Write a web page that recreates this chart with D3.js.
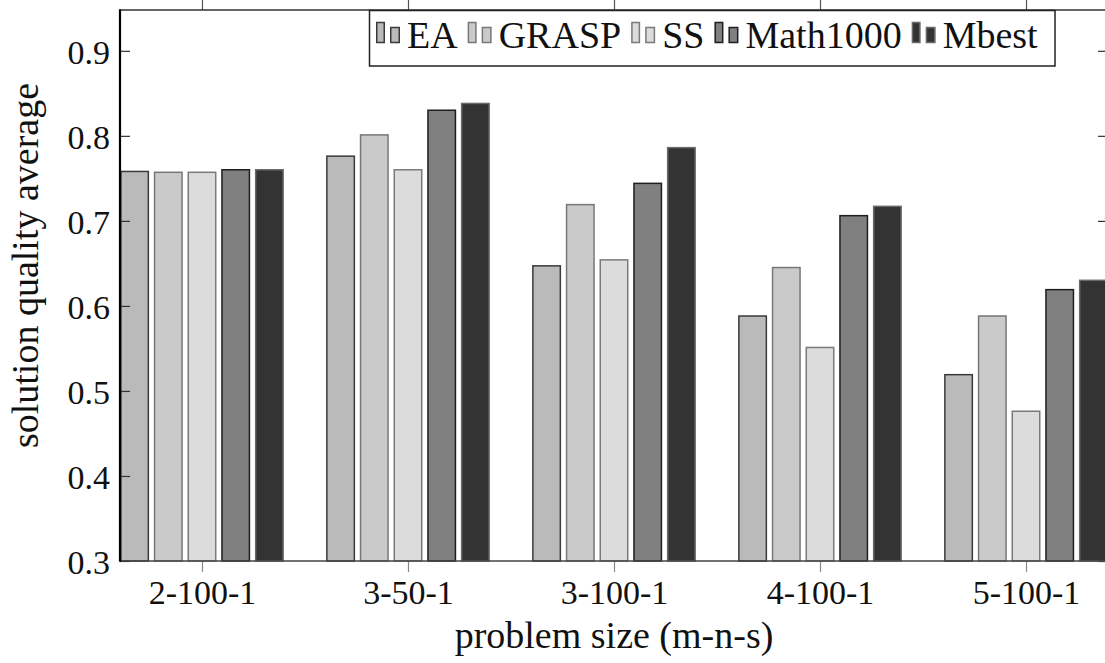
<!DOCTYPE html>
<html>
<head>
<meta charset="utf-8">
<script src="https://cdn.jsdelivr.net/npm/d3@7"></script>
<style>
  html, body { margin: 0; padding: 0; background: #fff; }
  svg { display: block; }
  text { font-family: "Liberation Serif", "Times New Roman", serif; fill: #111; }
</style>
</head>
<body>
<svg id="chart" width="1105" height="663"></svg>
<script>
// Problem sizes (m-n-s) on the x axis
const categories = ["2-100-1", "3-50-1", "3-100-1", "4-100-1", "5-100-1"];

// Solution quality average per method
const seriesNames = ["EA", "GRASP", "SS", "Math1000", "Mbest"];
const eaValues       = [0.759, 0.777, 0.648, 0.589, 0.520];
const graspValues    = [0.758, 0.802, 0.720, 0.646, 0.589];
const ssValues       = [0.758, 0.761, 0.655, 0.552, 0.477];
const math1000Values = [0.761, 0.831, 0.745, 0.707, 0.620];
const mbestValues    = [0.761, 0.839, 0.787, 0.718, 0.631];

const yTicks = [0.3, 0.4, 0.5, 0.6, 0.7, 0.8, 0.9];
const yDomain = [0.3, 0.948];

const seriesValues = [eaValues, graspValues, ssValues, math1000Values, mbestValues];

// Fill and outline per method
const fills   = ["#bababa", "#cacaca", "#dcdcdc", "#808080", "#333333"];
const strokes = ["#3a3a3a", "#777777", "#7a7a7a", "#1e1e1e", "#6a6a6a"];

const svg = d3.select("#chart");
const plotLeft = 120, plotRight = 1108, plotTop = 10, plotBottom = 561;

const x0 = d3.scalePoint().domain(categories).range([plotLeft, plotRight]).padding(0.398);
const x1 = d3.scaleBand().domain(seriesNames).range([-84.25, 84.25])
  .paddingInner(0.14).paddingOuter(0.07);
const y = d3.scaleLinear().domain(yDomain).range([plotBottom, plotTop]);

// Bars
const rows = categories.map((c, i) => ({
  cat: c,
  vals: seriesNames.map((s, k) => ({ s, k, v: seriesValues[k][i] }))
}));

const groups = svg.append("g").selectAll("g").data(rows).join("g")
  .attr("transform", d => `translate(${x0(d.cat)},0)`);

groups.selectAll("rect").data(d => d.vals).join("rect")
  .attr("x", d => x1(d.s) + 0.75)
  .attr("width", x1.bandwidth() - 1.5)
  .attr("y", d => y(d.v) + 0.75)
  .attr("height", d => y(yDomain[0]) - y(d.v) - 0.75)
  .attr("fill", d => fills[d.k])
  .attr("stroke", d => strokes[d.k])
  .attr("stroke-width", 1.5);

// Y axis, ticks pointing inward
const yAxis = svg.append("g").attr("transform", `translate(${plotLeft},0)`)
  .call(d3.axisLeft(y).tickValues(yTicks).tickFormat(d3.format(".1f"))
    .tickSize(-10).tickPadding(10));
yAxis.attr("font-family", null);
yAxis.select(".domain").remove();
yAxis.selectAll(".tick line").attr("stroke", "#333").attr("stroke-width", 1.2);
yAxis.selectAll(".tick text").attr("font-size", 34).attr("dy", "0.36em")
  .style("font-family", "'Liberation Serif', serif").attr("fill", "#222");

// Mirrored ticks on the right side
const yAxisR = svg.append("g").attr("transform", `translate(${plotRight},0)`)
  .call(d3.axisRight(y).tickValues(yTicks).tickSize(-10).tickFormat(""));
yAxisR.select(".domain").remove();
yAxisR.selectAll(".tick line").attr("stroke", "#333").attr("stroke-width", 1.2);

// X axis, ticks pointing outward
const xAxis = svg.append("g").attr("transform", `translate(0,${plotBottom})`)
  .call(d3.axisBottom(x0).tickSize(11).tickPadding(8));
xAxis.attr("font-family", null);
xAxis.select(".domain").remove();
xAxis.selectAll(".tick line").attr("stroke", "#888").attr("stroke-width", 1.2);
xAxis.selectAll(".tick text").attr("font-size", 34).attr("dy", "0.71em")
  .attr("y", 19)
  .style("font-family", "'Liberation Serif', serif").attr("fill", "#111");

const xAxisTop = svg.append("g").attr("transform", `translate(0,${plotTop})`)
  .call(d3.axisTop(x0).tickSize(11).tickFormat(""));
xAxisTop.select(".domain").remove();
xAxisTop.selectAll(".tick line").attr("stroke", "#555").attr("stroke-width", 1.2);

// Frame
svg.append("line").attr("x1", plotLeft).attr("x2", plotRight).attr("y1", plotTop).attr("y2", plotTop)
  .attr("stroke", "#333").attr("stroke-width", 1.5);
svg.append("line").attr("x1", plotLeft).attr("x2", plotRight).attr("y1", plotBottom).attr("y2", plotBottom)
  .attr("stroke", "#444").attr("stroke-width", 1.5);
svg.append("line").attr("x1", plotRight).attr("x2", plotRight).attr("y1", plotTop).attr("y2", plotBottom)
  .attr("stroke", "#333").attr("stroke-width", 1.5);
svg.append("line").attr("x1", plotLeft).attr("x2", plotLeft).attr("y1", plotTop - 0.75).attr("y2", plotBottom + 0.75)
  .attr("stroke", "#000").attr("stroke-width", 2.2);

// Axis titles
svg.append("text")
  .attr("x", (plotLeft + plotRight) / 2).attr("y", 648)
  .attr("text-anchor", "middle").attr("font-size", 38)
  .text("problem size (m-n-s)");

svg.append("text")
  .attr("transform", `translate(38,${(plotTop + plotBottom) / 2 - 20}) rotate(-90)`)
  .attr("text-anchor", "middle").attr("font-size", 38)
  .text("solution quality average");

// Legend
const legend = svg.append("g");
const legendBox = legend.append("rect")
  .attr("x", 369.5).attr("y", 10.5).attr("height", 55.5)
  .attr("fill", "#fff").attr("stroke", "#222").attr("stroke-width", 1.5);

let lx = 376;
seriesNames.forEach((name, k) => {
  legend.append("rect").attr("x", lx + 0.75).attr("y", 22.5).attr("width", 7.5).attr("height", 20)
    .attr("fill", fills[k]).attr("stroke", strokes[k]).attr("stroke-width", 1.5);
  legend.append("rect").attr("x", lx + 14.75).attr("y", 27.5).attr("width", 8.5).attr("height", 15)
    .attr("fill", fills[k]).attr("stroke", strokes[k]).attr("stroke-width", 1.5);
  const t = legend.append("text").attr("x", lx + 31).attr("y", 47.5)
    .attr("font-size", 38).text(name);
  lx += 31 + t.node().getComputedTextLength() + 10;
});
legendBox.attr("width", 1055 - 369.5);
</script>
</body>
</html>
